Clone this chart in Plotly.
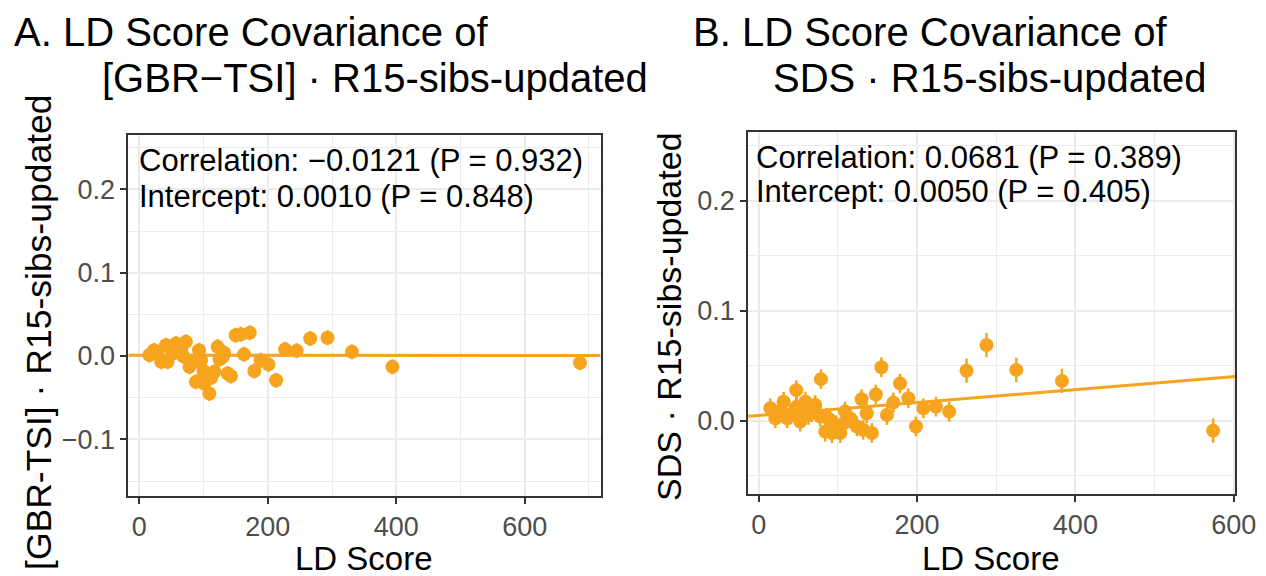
import plotly.graph_objects as go

# ---- Panel A: [GBR-TSI] x R15-sibs-updated ----
ld_a = [15.6, 23, 28, 34, 41.5, 44, 48, 52, 57, 62, 65, 68, 72.6, 78, 83, 88, 93, 96,
        100, 101, 104, 109, 112, 117, 122, 125, 130, 132, 137.5, 142.6, 150, 158, 163,
        172, 179, 189, 201, 213, 227, 245, 266, 293, 331, 394, 686]
cov_a = [0.0012, 0.007, 0.004, -0.007, 0.013, -0.007, 0.010, 0.003, 0.015, 0.012, 0.007,
         0.000, 0.017, -0.013, -0.008, -0.031, 0.007, -0.005, -0.018, -0.033, -0.021,
         -0.045, -0.026, -0.019, 0.011, -0.004, -0.001, 0.004, -0.021, -0.024, 0.025,
         0.026, 0.002, 0.028, -0.018, -0.005, -0.010, -0.029, 0.008, 0.0064, 0.021,
         0.022, 0.005, -0.013, -0.008]
se_a = [0.009] * len(ld_a)
intercept_a, slope_a = 0.0010, -0.0000005

# ---- Panel B: SDS x R15-sibs-updated ----
ld_b = [14.7, 21, 26, 31.5, 36, 40, 47.5, 48, 52.5, 56, 59, 63, 67, 71.4, 77.7, 78.6, 84,
        86, 90, 92.5, 98, 103, 108, 109, 115.5, 124, 130, 132, 136.5, 143, 148, 155, 162,
        170, 178.5, 189, 198.6, 208, 224, 240.6, 262.5, 287.7, 325.4, 383, 574]
cov_b = [0.0115, 0.0025, 0.009, 0.0175, 0.0025, 0.006, 0.028, 0.013, -0.0006, 0.010,
         0.0175, 0.0055, 0.008, 0.0145, 0.004, 0.038, -0.0097, 0.003, 0.001, -0.011,
         -0.004, -0.011, -0.002, 0.0085, 0.0025, -0.005, 0.0197, -0.008, 0.007, -0.011,
         0.024, 0.0488, 0.0055, 0.0167, 0.034, 0.0206, -0.005, 0.0115, 0.013, 0.0085,
         0.0457, 0.069, 0.0464, 0.0364, -0.0088]
se_b = [0.009] * 40 + [0.011] * 5
intercept_b, slope_b = 0.0050, 0.0000587

x_ticks = [0, 200, 400, 600]
y_ticks_a = [-0.1, 0.0, 0.1, 0.2]
y_ticks_b = [0.0, 0.1, 0.2]
x_range_a, y_range_a = [-17, 718], [-0.168, 0.2653]
x_range_b, y_range_b = [-13.4, 602], [-0.0664, 0.2627]

W, H = 1266, 576
PAPER_W = 1246  # horizontal extent used for placing panels and labels
ORANGE = "#F6A31E"
GRID = "#EBEBEB"
FRAME = "#333333"
FONT = "Liberation Sans, Arial, sans-serif"


def px(x):
    return (x + 1) / PAPER_W


def py(y):
    return 1 - y / H


fig = go.Figure()

panels = [
    (ld_a, cov_a, se_a, intercept_a, slope_a, x_range_a, "x", "y"),
    (ld_b, cov_b, se_b, intercept_b, slope_b, x_range_b, "x2", "y2"),
]
for ld, cov, se, b0, b1, xr, xa, ya in panels:
    fig.add_trace(go.Scatter(
        x=ld, y=cov, mode="markers", xaxis=xa, yaxis=ya,
        marker=dict(color=ORANGE, size=14, line=dict(width=0)),
        error_y=dict(type="data", array=se, color=ORANGE, thickness=2.5, width=0),
        hoverinfo="x+y", showlegend=False,
    ))
    fig.add_trace(go.Scatter(
        x=xr, y=[b0 + b1 * xr[0], b0 + b1 * xr[1]], mode="lines",
        xaxis=xa, yaxis=ya, line=dict(color=ORANGE, width=3),
        hoverinfo="skip", showlegend=False,
    ))


def x_axis(domain, rng):
    return dict(
        domain=domain, range=rng, tickvals=x_ticks, ticks="outside", ticklen=6,
        tickwidth=2, tickcolor=FRAME, showline=True, linecolor=FRAME, linewidth=2,
        mirror=True, showgrid=True, gridcolor=GRID, gridwidth=2, zeroline=False,
        minor=dict(dtick=100, tick0=0, showgrid=True, gridcolor=GRID, gridwidth=1),
        tickfont=dict(size=27, color="#4D4D4D", family=FONT),
        ticklabeloverflow="allow",
    )


def y_axis(domain, rng, ticks, anchor):
    return dict(
        domain=domain, range=rng, tickvals=ticks, ticktext=[f"{t:.1f}".replace("-", "\u2212") for t in ticks],
        ticks="outside", ticklen=6, tickwidth=2, tickcolor=FRAME, showline=True,
        linecolor=FRAME, linewidth=2, mirror=True, showgrid=True, gridcolor=GRID,
        gridwidth=2, zeroline=False, anchor=anchor,
        minor=dict(dtick=0.05, tick0=0.05, showgrid=True, gridcolor=GRID, gridwidth=1),
        tickfont=dict(size=27, color="#4D4D4D", family=FONT),
    )


fig.update_layout(
    width=W, height=H, autosize=False, margin=dict(l=0, r=0, t=0, b=0),
    paper_bgcolor="white", plot_bgcolor="white",
    font=dict(family=FONT, color="black"),
    xaxis=dict(**x_axis([px(127.5), px(600)], x_range_a), anchor="y"),
    yaxis=y_axis([py(496), py(135)], y_range_a, y_ticks_a, "x"),
    xaxis2=dict(**x_axis([px(747.7), px(1235.3)], x_range_b), anchor="y2"),
    yaxis2=y_axis([py(494), py(132)], y_range_b, y_ticks_b, "x2"),
)

texts = [
    # titles
    ("A. LD Score Covariance of", 12, 32, 40, "left", 0),
    ("[GBR\u2212TSI] \u00b7 R15-sibs-updated", 100, 78, 40, "left", 0),
    ("B. LD Score Covariance of", 692, 32, 40, "left", 0),
    ("SDS \u00b7 R15-sibs-updated", 772, 78, 40, "left", 0),
    # axis titles
    ("LD Score", 363, 558, 33, "center", 0),
    ("LD Score", 991, 558, 33, "center", 0),
    ("[GBR-TSI] \u00b7 R15-sibs-updated", 38, 332, 35.5, "center", -90),
    ("SDS \u00b7 R15-sibs-updated", 668, 316.5, 34, "center", -90),
    # fit statistics
    ("Correlation: \u22120.0121 (P = 0.932)", 137, 160, 31, "left", 0),
    ("Intercept: 0.0010 (P = 0.848)", 137, 196, 31, "left", 0),
    ("Correlation: 0.0681 (P = 0.389)", 755, 157, 31, "left", 0),
    ("Intercept: 0.0050 (P = 0.405)", 755, 192, 31, "left", 0),
]
for text, x, y, size, anchor, angle in texts:
    fig.add_annotation(
        text=text, x=px(x), y=py(y), xref="paper", yref="paper",
        xanchor=anchor, yanchor="middle", showarrow=False, textangle=angle,
        borderpad=0, font=dict(size=size, color="black", family=FONT),
    )

fig.write_html("out.html", config={"responsive": False})
